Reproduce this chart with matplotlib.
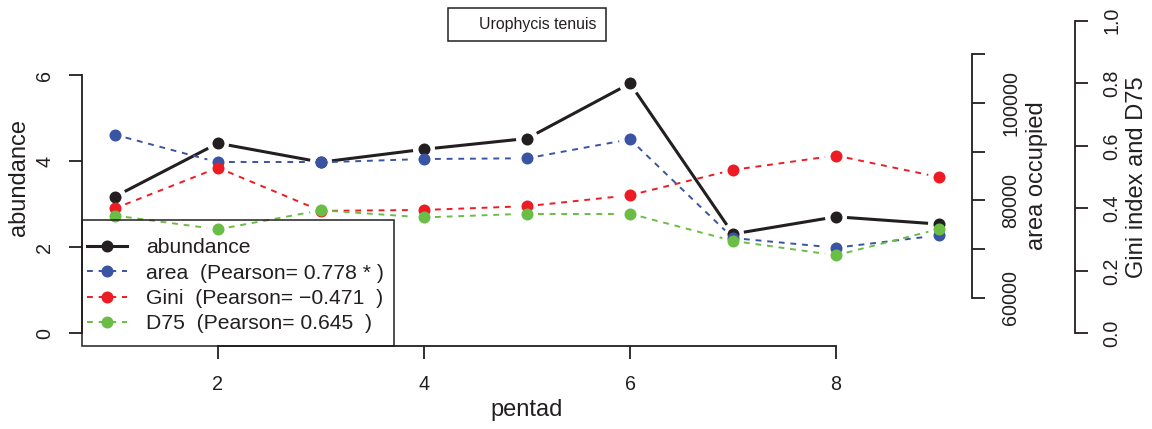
import matplotlib

matplotlib.use("Agg")

import matplotlib.pyplot as plt
import numpy as np
from matplotlib.lines import Line2D
from matplotlib.patches import Rectangle
from matplotlib.transforms import IdentityTransform

# pentad series for one species
pentad = [1, 2, 3, 4, 5, 6, 7, 8, 9]
abundance = [3.18, 4.42, 3.98, 4.28, 4.53, 5.81, 2.31, 2.71, 2.54]
area = [93480, 87810, 87810, 88490, 88640, 92540, 72260, 70270, 72820]
gini = [0.400, 0.530, 0.392, 0.395, 0.407, 0.442, 0.523, 0.569, 0.500]
d75 = [0.377, 0.333, 0.394, 0.371, 0.383, 0.383, 0.296, 0.250, 0.334]

species = "Urophycis tenuis"
series_labels = [
    "abundance",
    "area  (Pearson= 0.778 * )",
    "Gini  (Pearson= \u22120.471  )",
    "D75  (Pearson= 0.645  )",
]

abund_ticks = [0, 2, 4, 6]
pentad_ticks = [2, 4, 6, 8]
area_ticks = [60000, 70000, 80000, 90000, 100000, 110000]
area_tick_labels = ["60000", "", "80000", "", "100000", ""]
gini_ticks = [0.0, 0.2, 0.4, 0.6, 0.8, 1.0]

INK = "#231F20"
BLUE = "#3A54A4"
RED = "#ED1C24"
GREEN = "#6ABD45"

plt.rcParams["font.family"] = ["Liberation Sans", "DejaVu Sans"]

W, H = 1152, 429
DPI = 100
PX = 72.0 / DPI  # points per pixel

fig = plt.figure(figsize=(W / DPI, H / DPI), dpi=DPI)

# plot region, in pixels from the top-left corner
left, right, top, bottom = 82, 972, 8.2, 346
ax = fig.add_axes([left / W, 1 - bottom / H, (right - left) / W, (bottom - top) / H])
ax.set_xlim(0.68, 9.32)
ax.set_ylim(-0.295, 7.56)

ax_area = ax.twinx()
ax_area.set_ylim(50080, 119470)
ax_gini = ax.twinx()
ax_gini.set_ylim(-0.04, 1.04)

TICK_LEN = 13 * PX
AXIS_LW = 1.3
TICK_SIZE = 14.2
LABEL_SIZE = 17

for a in (ax, ax_area, ax_gini):
    a.patch.set_visible(False)
    for side in ("top", "right", "left", "bottom"):
        a.spines[side].set_visible(False)
        a.spines[side].set_linewidth(AXIS_LW)
        a.spines[side].set_color(INK)

# left axis: abundance
ax.spines["left"].set_visible(True)
ax.spines["left"].set_bounds(0, 6)
ax.spines["bottom"].set_visible(True)
ax.spines["bottom"].set_bounds(2, 8)
ax.set_yticks(abund_ticks)
ax.set_yticklabels([str(t) for t in abund_ticks], rotation=90, va="center", ha="center")
ax.set_xticks(pentad_ticks)
ax.set_xticklabels([str(t) for t in pentad_ticks], va="center")
ax.tick_params(axis="y", length=TICK_LEN, width=AXIS_LW, color=INK,
               labelsize=TICK_SIZE, labelcolor=INK, pad=24.3 * PX)
ax.tick_params(axis="x", length=TICK_LEN, width=AXIS_LW, color=INK,
               labelsize=TICK_SIZE, labelcolor=INK, pad=25.7 * PX)

# first right axis: area occupied
ax_area.spines["right"].set_visible(True)
ax_area.spines["right"].set_bounds(60000, 110000)
ax_area.set_yticks(area_ticks)
ax_area.set_yticklabels(area_tick_labels, rotation=90, va="center", ha="center")
ax_area.tick_params(axis="y", length=TICK_LEN, width=AXIS_LW, color=INK,
                    labelsize=TICK_SIZE, labelcolor=INK, pad=25.7 * PX)

# second right axis: Gini index and D75
ax_gini.spines["right"].set_visible(True)
ax_gini.spines["right"].set_position(("axes", (1075 - left) / (right - left)))
ax_gini.spines["right"].set_bounds(0, 1)
ax_gini.set_yticks(gini_ticks)
ax_gini.set_yticklabels([f"{t:.1f}" for t in gini_ticks], rotation=90,
                        va="center", ha="center")
ax_gini.tick_params(axis="y", length=TICK_LEN, width=AXIS_LW, color=INK,
                    labelsize=TICK_SIZE, labelcolor=INK, pad=24 * PX)


def px_to_fig(x, y):
    return x / W, 1 - y / H


fig.text(*px_to_fig(19, 177), "abundance", rotation=90, ha="center", va="center",
         fontsize=LABEL_SIZE, color=INK)
fig.text(*px_to_fig(527, 410), "pentad", ha="center", va="center",
         fontsize=LABEL_SIZE, color=INK)
fig.text(*px_to_fig(1037, 176), "area occupied", rotation=90, ha="center",
         va="center", fontsize=LABEL_SIZE, color=INK)
fig.text(*px_to_fig(1137, 177), "Gini index and D75", rotation=90, ha="center",
         va="center", fontsize=LABEL_SIZE, color=INK)

GAP = 11  # pixels left open around each point, like type="b"
MARKER = 12 * PX


def draw_series(axis, xs, ys, color, lw, dashes=None):
    pts = axis.transData.transform(np.column_stack([xs, ys]))
    inv = axis.transData.inverted()
    style = dict(color=color, linewidth=lw, solid_capstyle="butt",
                 dash_capstyle="butt")
    for p0, p1 in zip(pts[:-1], pts[1:]):
        d = p1 - p0
        length = np.hypot(*d)
        if length <= 2 * GAP:
            continue
        u = d / length
        seg = inv.transform([p0 + u * GAP, p1 - u * GAP])
        line, = axis.plot(seg[:, 0], seg[:, 1], **style)
        if dashes:
            line.set_dashes(dashes)
    axis.plot(xs, ys, linestyle="none", marker="o", markersize=MARKER,
              markerfacecolor=color, markeredgewidth=0)


DASH = (3, 3)
draw_series(ax, pentad, abundance, INK, 2.2)
draw_series(ax_area, pentad, area, BLUE, 1.4, DASH)
draw_series(ax_gini, pentad, gini, RED, 1.4, DASH)
draw_series(ax_gini, pentad, d75, GREEN, 1.4, DASH)

handles = [
    Line2D([], [], color=INK, linewidth=2.2, marker="o", markersize=MARKER,
           markeredgewidth=0),
]
for color in (BLUE, RED, GREEN):
    handles.append(Line2D([], [], color=color, linewidth=1.4, dashes=DASH,
                          marker="o", markersize=MARKER, markeredgewidth=0))

# series legend: tight horizontal padding, roomier frame drawn below
LEG_FS = 15.2
legend = ax_gini.legend(
    handles, series_labels, loc="lower left",
    bbox_to_anchor=(0, 7.5 / (bottom - top)),
    borderaxespad=0, fontsize=LEG_FS, numpoints=1, handlelength=1.9,
    handletextpad=0.9, labelspacing=0.3, borderpad=0.25, frameon=False,
)
for text in legend.get_texts():
    text.set_color(INK)
ax_gini.add_artist(legend)

title_box = ax_gini.legend(
    [Line2D([], [], linestyle="none")], [species], loc="upper center",
    bbox_to_anchor=(0.5, 1), borderaxespad=0, fontsize=11.4,
    handlelength=1.0, handletextpad=0.4, borderpad=0.56, fancybox=False,
    edgecolor=INK, facecolor="white", framealpha=1,
)
title_box.get_frame().set_linewidth(1.1)
for text in title_box.get_texts():
    text.set_color(INK)

fig.canvas.draw()
bb = legend.get_window_extent()
frame_bottom = H - bottom
frame = Rectangle(
    (bb.x0, frame_bottom), bb.width + 4, bb.y1 + 12.5 - frame_bottom,
    transform=IdentityTransform(), facecolor="none", edgecolor=INK,
    linewidth=1.1,
)
fig.add_artist(frame)

fig.savefig("out.png", dpi=DPI)
